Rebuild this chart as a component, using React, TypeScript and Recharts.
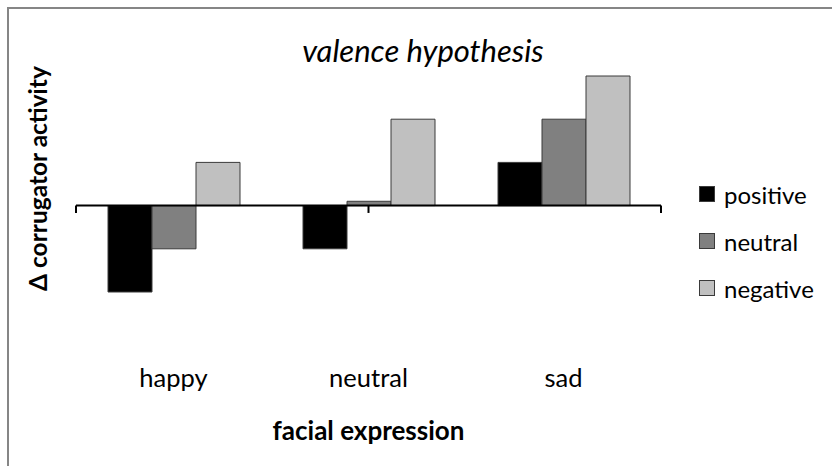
import React from 'react';
import { BarChart, Bar, XAxis, YAxis, ReferenceLine } from 'recharts';

const categories = ['happy', 'neutral', 'sad'];
const positiveValues = [-2, -1, 1];
const neutralValues = [-1, 0.1, 2];
const negativeValues = [1, 2, 3];
const seriesNames = ['positive', 'neutral', 'negative'];
const seriesColors = ['#000000', '#808080', '#c0c0c0'];
const categoryBoundaries = [0, 1, 2, 3];
const yDomain = [-3, 3];

const FONT = 'Lato, "Open Sans", sans-serif';

const data = categories.map((c, i) => ({
  category: c,
  positive: positiveValues[i],
  neutral: neutralValues[i],
  negative: negativeValues[i],
}));

const CategoryTick = (props: any) => {
  const { x, y, payload } = props;
  return (
    <text x={x} y={y + 22} textAnchor="middle" fontFamily={FONT} fontSize={25.5} fill="#000">
      {payload.value}
    </text>
  );
};

const XLabel = (props: any) => {
  const vb = props.viewBox;
  return (
    <text x={vb.x + vb.width / 2} y={vb.y + 75} textAnchor="middle" fontFamily={FONT} fontSize={26} fontWeight="bold" fill="#000">
      facial expression
    </text>
  );
};

const YLabel = (props: any) => {
  const vb = props.viewBox;
  const cx = 47;
  const cy = vb.y + vb.height / 2 - 27;
  return (
    <text x={cx} y={cy} textAnchor="middle" fontFamily={FONT} fontSize={24.5} fontWeight="bold" fill="#000" transform={`rotate(-90, ${cx}, ${cy})`}>
      Δ corrugator activity
    </text>
  );
};

export default function App() {
  return (
    <div style={{ position: 'absolute', left: 0, top: 0, width: 832, height: 466, overflow: 'hidden', background: '#fff' }}>
      <div style={{ position: 'absolute', left: 7, top: 7, width: 900, height: 600, border: '2px solid #868686', boxSizing: 'border-box' }} />
      <div style={{ position: 'absolute', left: 0, top: 0 }}>
        <BarChart width={832} height={466} data={data} margin={{ top: 76, right: 171, left: 0, bottom: 0 }} barCategoryGap={32} barGap={0}>
          <XAxis
            dataKey="category"
            xAxisId="cat"
            axisLine={false}
            tickLine={false}
            tickSize={0}
            tickMargin={0}
            height={130.8}
            tick={<CategoryTick />}
            label={<XLabel />}
          />
          <XAxis xAxisId="bound" type="number" domain={[0, 3]} hide />
          <YAxis domain={yDomain} width={76} axisLine={false} tickLine={false} tick={false} label={<YLabel />} />
          <ReferenceLine y={0} xAxisId="cat" stroke="#000" strokeWidth={2} />
          {categoryBoundaries.map((b) => (
            <ReferenceLine
              key={b}
              xAxisId="bound"
              segment={[{ x: b, y: 0 }, { x: b, y: -0.17 }]}
              stroke="#000"
              strokeWidth={2}
              ifOverflow="visible"
            />
          ))}
          {seriesNames.map((s, i) => (
            <Bar key={s} xAxisId="cat" dataKey={s} fill={seriesColors[i]} stroke="#3a3a3a" strokeWidth={1} isAnimationActive={false} />
          ))}
        </BarChart>
      </div>
      <div style={{ position: 'absolute', left: 0, width: 846, top: 31, textAlign: 'center', fontFamily: FONT, fontStyle: 'italic', fontSize: 31, color: '#000', lineHeight: '38px' }}>
        valence hypothesis
      </div>
      {seriesNames.map((s, i) => (
        <div key={s} style={{ position: 'absolute', left: 699, top: 179 + i * 47, height: 30, display: 'flex', alignItems: 'center', fontFamily: FONT, fontSize: 24, color: '#000' }}>
          <span style={{ display: 'inline-block', width: 14, height: 14, background: seriesColors[i], border: '1px solid #3a3a3a', marginRight: 9 }} />
          {s}
        </div>
      ))}
    </div>
  );
}
